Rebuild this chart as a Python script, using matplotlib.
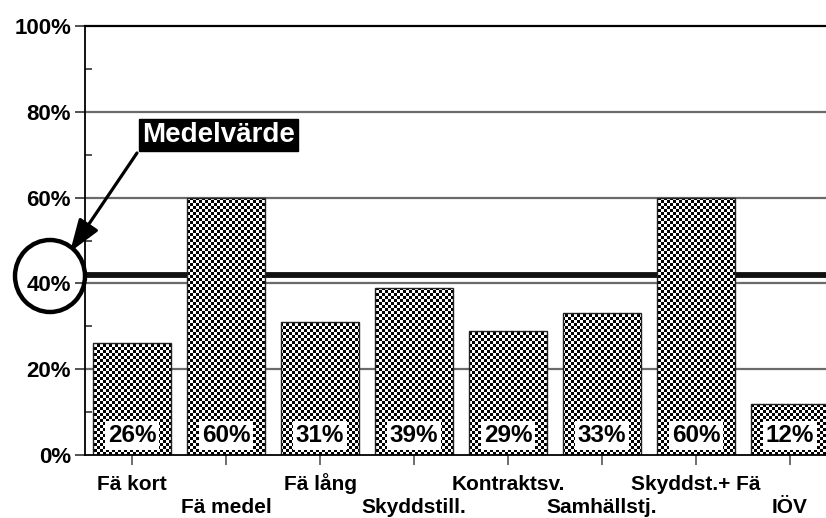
import numpy as np
import matplotlib
matplotlib.use("Agg")
import matplotlib.pyplot as plt
from matplotlib.path import Path
from matplotlib.transforms import Affine2D, blended_transform_factory
from matplotlib.patches import Ellipse

categories = ["Fä kort", "Fä medel", "Fä lång", "Skyddstill.", "Kontraktsv.",
              "Samhällstj.", "Skyddst.+ Fä", "IÖV"]
values = [26, 60, 31, 39, 29, 33, 60, 12]
value_labels = ["26%", "60%", "31%", "39%", "29%", "33%", "60%", "12%"]
mean_value = 42
yticks = [0, 20, 40, 60, 80, 100]
ytick_labels = ["0%", "20%", "40%", "60%", "80%", "100%"]
annotation_text = "Medelvärde"

plt.rcParams['font.family'] = ['Liberation Sans', 'DejaVu Sans']
plt.rcParams['font.weight'] = 'bold'

W, H = 826, 518
fig = plt.figure(figsize=(W / 100, H / 100), dpi=100)
ax_left, ax_right, ax_top, ax_bot = 85, 837, 26, 455
ax = fig.add_axes([ax_left / W, 1 - ax_bot / H, (ax_right - ax_left) / W, (ax_bot - ax_top) / H])

x = np.arange(len(categories))
ax.set_xlim(-0.5, len(categories) - 0.5)
ax.set_ylim(0, 100)

# grid lines
for yv in yticks[1:-1]:
    ax.axhline(yv, color="#6a6a6a", lw=1.6, zorder=0.5)
# mean line
ax.axhline(mean_value, color="#111111", lw=4.2, zorder=1.0)

bw = 0.83
bars = ax.bar(x, values, width=bw, color="white", edgecolor="none", zorder=2)

# checkerboard fill clipped to bars
npx_w, npx_h = ax_right - ax_left, ax_bot - ax_top
rr, cc = np.mgrid[0:npx_h, 0:npx_w]
checker = ((rr // 3 + cc // 3) % 2).astype(float)
im = ax.imshow(checker, cmap="gray", vmin=0, vmax=1, extent=(-0.5, len(categories) - 0.5, 0, 100),
               aspect="auto", interpolation="nearest", zorder=2.2, origin="upper")
rects = [Path.unit_rectangle().transformed(Affine2D().scale(b.get_width(), b.get_height()).translate(b.get_x(), 0))
         for b in bars]
im.set_clip_path(Path.make_compound_path(*rects), ax.transData)
ax.set_xlim(-0.5, len(categories) - 0.5)
ax.set_ylim(0, 100)

ax.bar(x, values, width=bw, fill=False, edgecolor="#222222", lw=1.0, zorder=2.5)

# value labels
for xi, lab in zip(x, value_labels):
    ax.text(xi, 4.6, lab, ha="center", va="center", fontsize=17.5, fontweight="bold", zorder=4,
            bbox=dict(boxstyle="square,pad=0.12", fc="white", ec="none"))

# axes styling
ax.spines["right"].set_visible(False)
ax.spines["top"].set_color("black")
ax.spines["top"].set_linewidth(1.6)
ax.spines["left"].set_linewidth(1.3)
ax.spines["bottom"].set_linewidth(1.3)

ax.set_yticks(yticks)
ax.set_yticklabels(ytick_labels, fontsize=16, fontweight="bold")
ax.set_yticks([10, 30, 50, 70, 90], minor=True)
ax.tick_params(axis="y", which="major", direction="out", length=7, width=1.2, color="#333333", pad=3)
ax.tick_params(axis="y", which="minor", direction="in", length=5, width=1.2, color="#333333")

ax.set_xticks(x)
ax.set_xticklabels([""] * len(x))
ax.tick_params(axis="x", which="major", direction="out", length=7.5, width=1.2, color="#555555")

trans = blended_transform_factory(ax.transData, ax.transAxes)
for i, lab in enumerate(categories):
    yy = -0.0676 if i % 2 == 0 else -0.1235
    ax.text(i, yy, lab, transform=trans, ha="center", va="center", fontsize=15, fontweight="bold")

# annotation: box, arrow, circle
fig.text(218.5 / W, 1 - 135 / H, annotation_text, ha="center", va="center", color="white",
         fontsize=20, fontweight="bold",
         bbox=dict(boxstyle="square,pad=0.12", fc="black", ec="black"))
ax.annotate("", xy=(70 / W, 1 - 252 / H), xycoords="figure fraction",
            xytext=(137 / W, 1 - 153 / H), textcoords="figure fraction",
            arrowprops=dict(arrowstyle="-|>,head_length=20,head_width=7", mutation_scale=1,
                            lw=2.3, color="black", shrinkA=0, shrinkB=0), annotation_clip=False)
circ = Ellipse((50 / W, 1 - 276 / H), 70 / W, 72 / H, transform=fig.transFigure,
               fill=False, ec="black", lw=3.2)
fig.add_artist(circ)

fig.savefig("out.png", dpi=100)
